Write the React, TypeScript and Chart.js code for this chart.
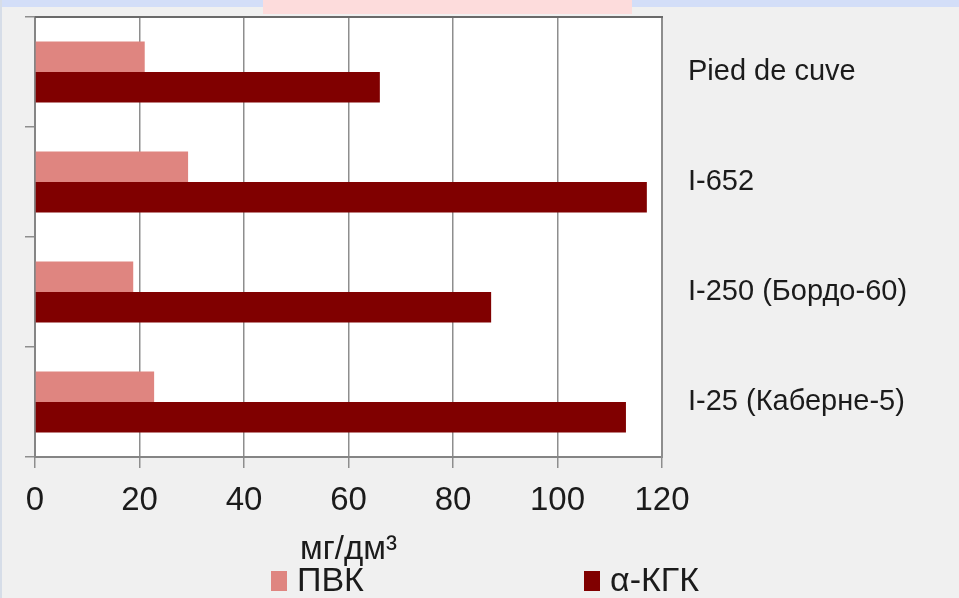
import React, { useEffect, useRef } from 'react';
import { Chart, registerables } from 'chart.js';

Chart.register(...registerables);

// Data
const categories = ['Pied de cuve', 'I-652', 'I-250 (Бордо-60)', 'I-25 (Каберне-5)'];
const seriesNames = ['ПВК', 'α-КГК'];
const pvkValues = [21, 29.3, 18.8, 22.8];
const akgkValues = [66, 117.1, 87.3, 113.1];
const xMin = 0;
const xMax = 120;
const xStep = 20;
const axisTitle = 'мг/дм³';

// Styling
const W = 959;
const H = 598;
const FONT = "'Liberation Sans', Arial, sans-serif";
const TEXT = '#1b1b1b';
const GRID = '#8e8e8e';
const COLORS = ['#df8580', '#800000'];
const LEGEND_X = [271, 584];
const LEGEND_Y = 582;

const plotFrame = {
  id: 'plotFrame',
  beforeDraw(chart: any) {
    const { ctx, chartArea: a } = chart;
    ctx.save();
    ctx.fillStyle = '#ffffff';
    ctx.fillRect(a.left, a.top, a.right - a.left, a.bottom - a.top);
    ctx.restore();
  },
  afterDraw(chart: any) {
    const { ctx, chartArea: a } = chart;
    ctx.save();
    ctx.strokeStyle = '#6a6a6a';
    ctx.lineWidth = 2;
    ctx.beginPath();
    ctx.moveTo(a.left, a.top);
    ctx.lineTo(a.right + 1, a.top);
    ctx.stroke();
    ctx.restore();
  },
};

const bottomLegend = {
  id: 'bottomLegend',
  afterDraw(chart: any) {
    const { ctx } = chart;
    ctx.save();
    ctx.font = `34px ${FONT}`;
    ctx.textBaseline = 'middle';
    ctx.textAlign = 'left';
    chart.data.datasets.forEach((ds: any, i: number) => {
      const x = LEGEND_X[i];
      ctx.fillStyle = ds.backgroundColor;
      ctx.fillRect(x, LEGEND_Y - 11, 16, 20);
      ctx.fillStyle = TEXT;
      ctx.fillText(ds.label, x + 26, LEGEND_Y);
    });
    ctx.restore();
  },
};

export default function App() {
  const canvasRef = useRef<HTMLCanvasElement | null>(null);

  useEffect(() => {
    if (!canvasRef.current) return;
    const chart = new Chart(canvasRef.current, {
      type: 'bar',
      data: {
        labels: categories,
        datasets: [
          {
            label: seriesNames[0],
            data: pvkValues,
            backgroundColor: COLORS[0],
            borderWidth: 0,
            barPercentage: 1,
            categoryPercentage: 0.555,
            yAxisID: 'y',
          },
          {
            label: seriesNames[1],
            data: akgkValues,
            backgroundColor: COLORS[1],
            borderWidth: 0,
            barPercentage: 1,
            categoryPercentage: 0.555,
            yAxisID: 'y',
          },
        ],
      },
      options: {
        indexAxis: 'y',
        responsive: false,
        animation: false,
        devicePixelRatio: 1,
        layout: { padding: { top: 17, left: 0, right: 0, bottom: 0 } },
        plugins: {
          legend: { display: false },
          tooltip: { enabled: false },
          title: { display: false },
        },
        scales: {
          x: {
            type: 'linear',
            position: 'bottom',
            min: xMin,
            max: xMax,
            ticks: {
              stepSize: xStep,
              color: TEXT,
              font: { family: FONT, size: 33 },
              padding: 13,
              maxRotation: 0,
            },
            grid: {
              color: GRID,
              lineWidth: 1.5,
              drawTicks: true,
              tickLength: 11,
            },
            border: { display: true, color: '#858585', width: 2 },
            title: {
              display: true,
              text: axisTitle,
              color: TEXT,
              font: { family: FONT, size: 33 },
              padding: { top: 0, bottom: 28 },
            },
            afterFit(scale: any) {
              scale.height = 141;
              scale.paddingLeft = 0;
              scale.paddingRight = 0;
            },
          },
          y: {
            type: 'category',
            position: 'left',
            offset: true,
            ticks: { display: false },
            grid: {
              offset: true,
              drawOnChartArea: false,
              drawTicks: true,
              tickLength: 10,
              color: GRID,
              lineWidth: 1.5,
            },
            border: { display: true, color: '#858585', width: 2 },
            afterFit(scale: any) {
              scale.width = 35;
              scale.paddingTop = 0;
              scale.paddingBottom = 0;
            },
          },
          y2: {
            type: 'category',
            position: 'right',
            offset: true,
            labels: categories,
            ticks: {
              color: TEXT,
              font: { family: FONT, size: 29 },
              padding: 26,
            },
            grid: { display: false, drawTicks: false },
            border: { display: true, color: GRID, width: 2 },
            afterFit(scale: any) {
              scale.width = W - 662;
              scale.paddingTop = 0;
              scale.paddingBottom = 0;
            },
          },
        },
      },
      plugins: [plotFrame, bottomLegend],
    });
    return () => chart.destroy();
  }, []);

  return (
    <div
      style={{
        position: 'fixed',
        left: 0,
        top: 0,
        width: W,
        height: H,
        background: '#f0f0f0',
        overflow: 'hidden',
      }}
    >
      <div style={{ position: 'absolute', left: 0, top: 0, width: W, height: 7, background: '#d3def8' }} />
      <div style={{ position: 'absolute', left: 0, top: 0, width: 2, height: H, background: '#d6dde8' }} />
      <div style={{ position: 'absolute', left: 263, top: 0, width: 369, height: 14, background: '#fddcdc' }} />
      <canvas
        ref={canvasRef}
        width={W}
        height={H}
        style={{ position: 'absolute', left: 0, top: 0, width: W, height: H }}
      />
    </div>
  );
}
